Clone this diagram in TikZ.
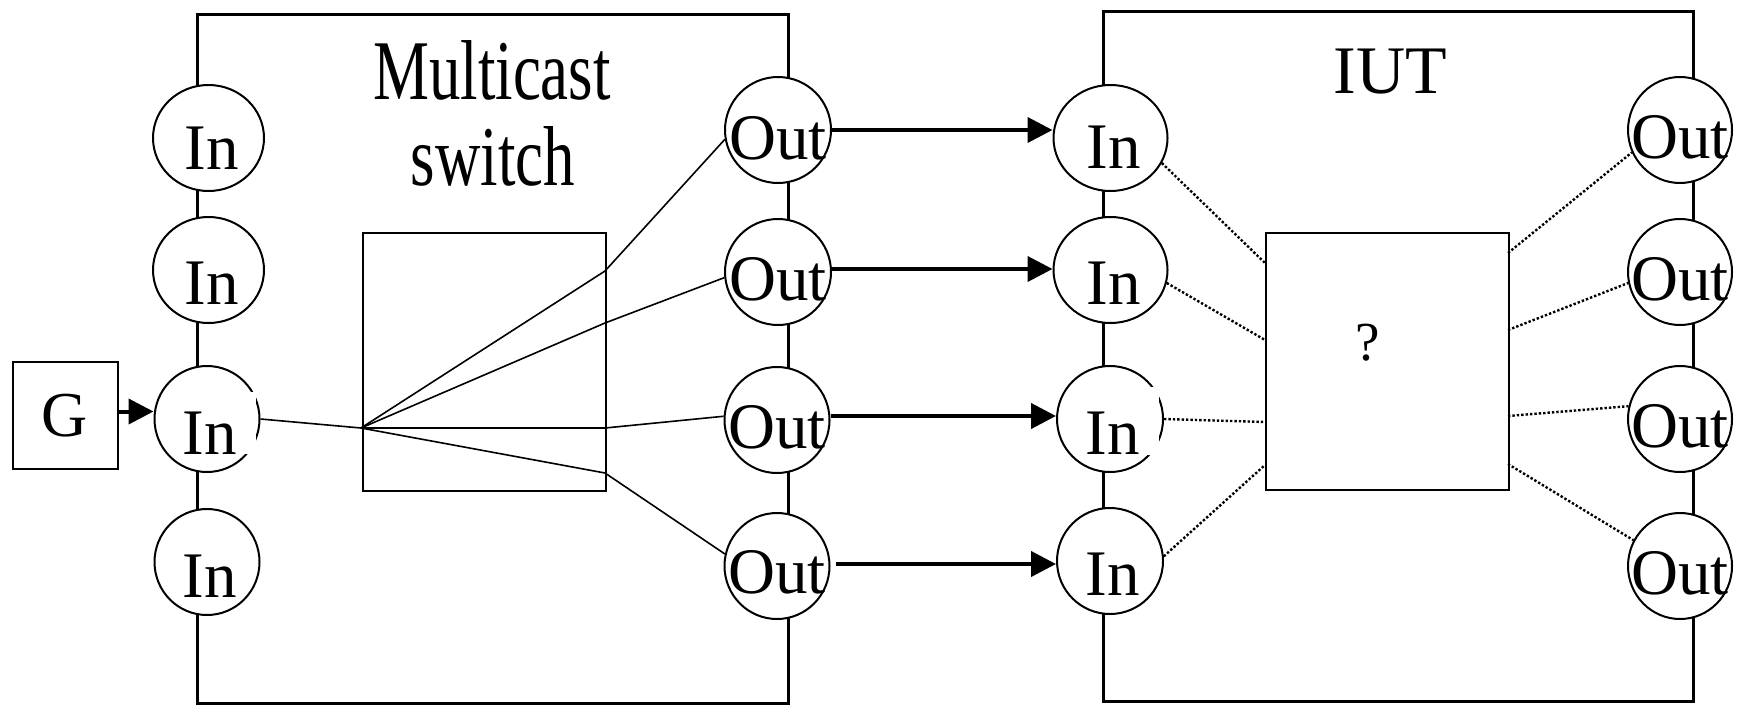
\documentclass[tikz,border=0pt]{standalone}
\usepackage{fontspec}
\setmainfont{Liberation Serif}
\newfontfamily\condfont[FakeStretch=0.74]{Liberation Serif}
\usetikzlibrary{arrows.meta,shapes.geometric}
\begin{document}
\begin{tikzpicture}[x=1pt,y=-1pt,
  port/.style={ellipse,draw,line width=2pt,fill=white,inner sep=0pt,minimum height=106pt},
  lbl/.style={anchor=base,inner sep=0pt,font=\fontsize{65}{65}\selectfont},
  bigbox/.style={draw,line width=3pt,inner sep=0pt,anchor=north west},
  innerbox/.style={draw,line width=2.2pt,inner sep=0pt,anchor=north west},
  fan/.style={line width=1.6pt},
  dotl/.style={line width=2.4pt,dash pattern=on 2.4pt off 2pt},
  flow/.style={line width=4pt,-{Triangle[length=25pt,width=25pt]}}]
\useasboundingbox (0,0) rectangle (1742,704);
% big boxes
\node[bigbox,minimum width=591pt,minimum height=689.5pt] (msw) at (196,12.5) {};
\node[bigbox,minimum width=590pt,minimum height=690pt] (iut) at (1102,10) {};
% inner boxes
\node[innerbox,minimum width=243pt,minimum height=258pt] (sw) at (362,232) {};
\node[innerbox,minimum width=243pt,minimum height=257pt] (q) at (1265,232) {};
% G box
\node[draw,line width=1.3pt,inner sep=0pt,minimum width=105pt,minimum height=107pt] (g) at (65.5,415.5) {};
% switch ports
\node[port,minimum width=111pt] (a1) at (208.5,138) {};
\node[port,minimum width=111pt] (a2) at (208.5,270) {};
\node[port,minimum width=105pt] (a3) at (207,419) {};
\node[port,minimum width=105pt] (a4) at (207,562) {};
\node[port,minimum width=106pt] (o1) at (778,130) {};
\node[port,minimum width=106pt] (o2) at (778,272) {};
\node[port,minimum width=105pt] (o3) at (777,420) {};
\node[port,minimum width=105pt] (o4) at (777,566) {};
% IUT ports
\node[port,minimum width=114pt] (i1) at (1110.5,138) {};
\node[port,minimum width=114pt] (i2) at (1110.5,270) {};
\node[port,minimum width=106pt] (i3) at (1110,419) {};
\node[port,minimum width=106pt] (i4) at (1110,561) {};
\node[port,minimum width=104pt] (p1) at (1680,130) {};
\node[port,minimum width=104pt] (p2) at (1680,272) {};
\node[port,minimum width=104pt] (p3) at (1680,419) {};
\node[port,minimum width=104pt] (p4) at (1680,566) {};
% white gaps on the third In ports
\fill[white] (200,392) rectangle (256,454);
\fill[white] (1104,387) rectangle (1159,455);
% fan-out inside switch
\coordinate (F) at (361,428);
\coordinate (k1) at (605,271);
\coordinate (k2) at (605,323);
\coordinate (k3) at (605,428);
\coordinate (k4) at (605,473);
\draw[fan] (a3.east) -- (F);
\draw[fan] (F) -- (k1) -- (o1.190);
\draw[fan] (F) -- (k2) -- (o2.186);
\draw[fan] (F) -- (k3) -- (o3.176);
\draw[fan] (F) -- (k4) -- (o4.167);
% dotted lines in IUT
\coordinate (r1) at (1265,263);
\coordinate (r2) at (1265,340);
\coordinate (r3) at (1265,422);
\coordinate (r4) at (1265,465);
\coordinate (s1) at (1508,253);
\coordinate (s2) at (1508,330);
\coordinate (s3) at (1508,416);
\coordinate (s4) at (1508,464);
\draw[dotl] (i1.334) -- (r1);
\draw[dotl] (i2.347) -- (r2);
\draw[dotl] (i3.east) -- (r3);
\draw[dotl] (i4.5) -- (r4);
\draw[dotl] (s1) -- (p1.205);
\draw[dotl] (s2) -- (p2.192);
\draw[dotl] (s3) -- (p3.166);
\draw[dotl] (s4) -- (p4.151);
% arrows
\draw[flow] ([yshift=4pt]g.east) -- ([yshift=4pt]g.east -| a3.west);
\draw[flow] (o1.east) -- (o1.east -| i1.west);
\draw[flow] ([yshift=3pt]o2.east) -- ([yshift=3pt]o2.east -| i2.west);
\draw[flow] ([yshift=4pt]o3.east) -- ([yshift=4pt]o3.east -| i3.west);
\draw[flow] ([yshift=2pt,xshift=5pt]o4.east) -- ([yshift=2pt]o4.east -| i4.west);
% labels
\node[lbl] (ta1) at (211.5,169) {In};
\node[lbl] (ta2) at (211.5,304) {In};
\node[lbl] (ta3) at (210,454) {In};
\node[lbl] (ta4) at (210,597) {In};
\node[lbl] (to1) at (778,159) {Out};
\node[lbl] (to2) at (778,300) {Out};
\node[lbl] (to3) at (777,448) {Out};
\node[lbl] (to4) at (777,593) {Out};
\node[lbl] (ti1) at (1113.5,168) {In};
\node[lbl] (ti2) at (1113.5,304) {In};
\node[lbl] (ti3) at (1113,454) {In};
\node[lbl] (ti4) at (1113,595) {In};
\node[lbl] (tp1) at (1680,158) {Out};
\node[lbl] (tp2) at (1680,300) {Out};
\node[lbl] (tp3) at (1680,447) {Out};
\node[lbl] (tp4) at (1680,594) {Out};
\node[lbl,font=\fontsize{64}{64}\selectfont] (tg) at (65,436) {G};
\node[anchor=base,inner sep=0pt,font=\condfont\fontsize{85}{85}\selectfont] (tm1) at (492,99) {Multicast};
\node[anchor=base,inner sep=0pt,font=\condfont\fontsize{85}{85}\selectfont] (tm2) at (493,185) {switch};
\node[anchor=base,inner sep=0pt,font=\fontsize{68}{68}\selectfont] (tiut) at (1390,93) {IUT};
\node[anchor=base,inner sep=0pt,font=\fontsize{55}{55}\selectfont] (tq) at (1368,360) {?};
\end{tikzpicture}
\end{document}
